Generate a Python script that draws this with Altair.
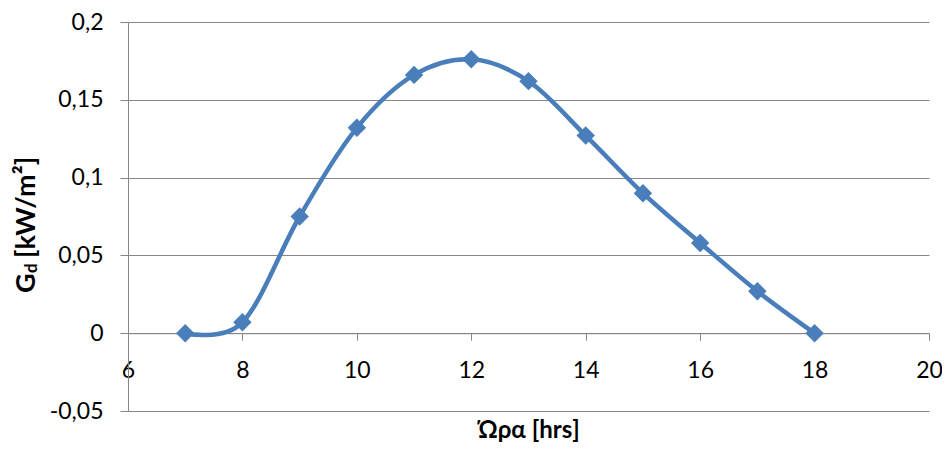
import altair as alt
import pandas as pd

# ---- data ----
hours = [7, 8, 9, 10, 11, 12, 13, 14, 15, 16, 17, 18]
gd = [0.0, 0.007, 0.075, 0.132, 0.166, 0.176, 0.162, 0.127, 0.090, 0.058, 0.027, 0.0]
x_ticks = [6, 8, 10, 12, 14, 16, 18, 20]
y_ticks = [-0.05, 0.0, 0.05, 0.10, 0.15, 0.20]

df = pd.DataFrame({"hour": hours, "gd": gd})

W, H = 801, 389
BLUE = "#4a7ebb"
GREY = "#868686"
FONT = "Lato, Open Sans"

x_enc = alt.X(
    "hour:Q",
    scale=alt.Scale(domain=[6, 20], nice=False, zero=False),
    axis=alt.Axis(
        values=x_ticks,
        format="d",
        grid=False,
        domainColor=GREY,
        tickColor=GREY,
        tickSize=7,
        labelPadding=19,
        labelFlush=False,
        labelFont=FONT,
        labelFontSize=23,
        labelColor="black",
        offset=-0.2 * H,
        title="Ώρα [hrs]",
        titleFont=FONT,
        titleFontSize=24,
        titleFontWeight="bold",
        titleColor="black",
        titleBaseline="top",
        titleY=85,
    ),
)
y_enc = alt.Y(
    "gd:Q",
    scale=alt.Scale(domain=[-0.05, 0.2], nice=False, zero=False),
    axis=alt.Axis(
        values=y_ticks,
        grid=True,
        gridColor=GREY,
        domainColor=GREY,
        tickColor=GREY,
        tickSize=8,
        labelPadding=17,
        labelFont=FONT,
        labelFontSize=23,
        labelColor="black",
        labelExpr="replace(toString(datum.value), '.', ',')",
        title=None,
    ),
)

base = alt.Chart(df)
line = base.mark_line(interpolate="cardinal", color=BLUE, strokeWidth=4.5).encode(x=x_enc, y=y_enc)
pts = base.mark_point(shape="diamond", filled=True, size=340, color=BLUE, opacity=1).encode(
    x="hour:Q", y="gd:Q"
)

one = pd.DataFrame({"k": [0]})
t_g = alt.Chart(one).mark_text(
    angle=270, align="left", baseline="alphabetic", font=FONT, fontSize=27,
    fontWeight="bold", color="black"
).encode(x=alt.value(-93), y=alt.value(271), text=alt.value("G"))
t_d = alt.Chart(one).mark_text(
    angle=270, align="left", baseline="alphabetic", font=FONT, fontSize=17,
    fontWeight="bold", color="black"
).encode(x=alt.value(-91), y=alt.value(251), text=alt.value("d"))
t_u = alt.Chart(one).mark_text(
    angle=270, align="left", baseline="alphabetic", font=FONT, fontSize=27,
    fontWeight="bold", color="black"
).encode(x=alt.value(-93), y=alt.value(236), text=alt.value("[kW/m²]"))

chart = (
    alt.layer(line, pts, t_g, t_d, t_u)
    .properties(
        width=W,
        height=H,
        padding={"left": 120, "top": 14, "right": 13, "bottom": 32},
        autosize=alt.AutoSizeParams(type="none"),
    )
    .configure_view(stroke=None)
)

chart.save("out.html", embed_options={"renderer": "svg", "actions": False})
